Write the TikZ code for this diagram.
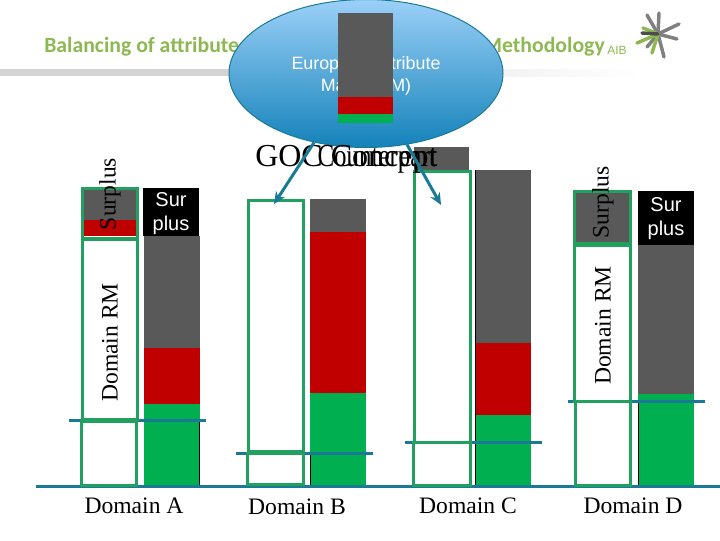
\documentclass[tikz,border=0pt]{standalone}
\usepackage{fontspec}
\setmainfont{Liberation Serif}
\setsansfont{Liberation Sans}
\newfontfamily\titlefont{Carlito}
\usepackage{tikz}
\usetikzlibrary{positioning,arrows.meta,shapes.geometric}
\definecolor{AIBGreen}{RGB}{141,184,82}
\definecolor{RMGreen}{RGB}{33,160,96}
\definecolor{BarGray}{RGB}{89,89,89}
\definecolor{BarRed}{RGB}{192,0,0}
\definecolor{BarGreen}{RGB}{0,176,80}
\definecolor{LineBlue}{RGB}{26,122,150}
\definecolor{EllipseTop}{RGB}{155,208,248}
\definecolor{EllipseBottom}{RGB}{20,130,185}
\tikzset{
    rmbox/.style={draw=RMGreen, line width=2.25pt},
    graybar/.style={fill=BarGray, draw=none},
    redbar/.style={fill=BarRed, draw=none},
    greenbar/.style={fill=BarGreen, draw=none},
    levelline/.style={draw=LineBlue, line width=2.25pt},
    edgeline/.style={draw=black, line width=0.75pt},
    pointer/.style={draw=LineBlue, line width=2.25pt, -{Stealth[length=9pt,width=8pt]}},
    surplustext/.style={text=white, font=\sffamily\fontsize{15}{18}\selectfont, align=center, inner sep=0pt},
    sidelabel/.style={rotate=90, font=\fontsize{17.7}{20}\selectfont, inner sep=0pt},
    domainlabel/.style={anchor=base, font=\fontsize{17.7}{20}\selectfont, inner sep=0pt},
    biglabel/.style={anchor=base west, font=\fontsize{24}{28}\selectfont, inner sep=0pt},
    titlelabel/.style={inner sep=0pt, text=AIBGreen, font=\titlefont\bfseries\fontsize{16.3}{18}\selectfont},
    ray/.style={line width=2.6pt, line cap=round}
}
\begin{document}
\begin{tikzpicture}[x=0.75pt, y=-0.75pt]
    \useasboundingbox (0,0) rectangle (720,540);

    % --- 1. TITLE ---
    \fill[black!17] (0,69) rectangle (229,76);
    \shade[left color=black!5, right color=white, draw=none] (500,69) rectangle (640,76);
    \node[titlelabel, anchor=base west] (titleleft) at (44,52) {Balancing of attributes};
    \node[titlelabel, anchor=base east] (titleright) at (605,52) {Methodology};
    \node[anchor=base west, inner sep=0pt, text=AIBGreen, font=\sffamily\fontsize{9}{10}\selectfont] (aib) at (607,54) {AIB};

    % logo
    \foreach \ex/\ey in {659/13, 647/15, 679/24, 677/39, 664/57, 647/47}
        \draw[ray, black!50] (658,34) -- (\ex,\ey);
    \foreach \ex/\ey in {652/53, 637/43, 643/28}
        \draw[ray, AIBGreen] (658,34) -- (\ex,\ey);
    \draw[ray, black!70] (642,33) -- (658,34);

    % --- 2. DOMAIN BARS ---
    % Domain A
    \fill[black] (143,188) rectangle (199,236);
    \fill[graybar] (144,236) rectangle (200,348);
    \fill[redbar] (144,348) rectangle (200,404);
    \fill[greenbar] (144,404) rectangle (200,486);
    \draw[edgeline] (199.5,422) -- (199.5,486);
    \node[surplustext] (surplusA) at (171,214) {Sur\\plus};

    % Domain B
    \fill[graybar] (310,199) rectangle (366,232);
    \fill[redbar] (310,232) rectangle (366,393);
    \fill[greenbar] (310,393) rectangle (366,486);
    \draw[edgeline] (310,455) -- (310,486);

    % Domain C
    \fill[graybar] (476,170) rectangle (531,343);
    \fill[redbar] (476,343) rectangle (531,415);
    \fill[greenbar] (476,415) rectangle (531,486);
    \draw[edgeline] (475.5,170) -- (475.5,486);

    % Domain D
    \fill[black] (638,191) rectangle (694,245);
    \fill[graybar] (638,245) rectangle (694,394);
    \fill[greenbar] (638,394) rectangle (694,486);
    \draw[edgeline] (638,402) -- (638,486);
    \node[surplustext] (surplusD) at (666,219) {Sur\\plus};

    % --- 3. LEVEL LINES ---
    \draw[levelline] (36,486.5) -- (720,486.5);
    \draw[levelline] (69,420.5) -- (206,420.5);
    \draw[levelline] (236,453.5) -- (373,453.5);
    \draw[levelline] (405,442.5) -- (542,442.5);
    \draw[levelline] (568,401.5) -- (705,401.5);

    % --- 4. RM BOXES ---
    % Domain A
    \fill[graybar] (83,188) rectangle (137,220);
    \fill[redbar] (83,220) rectangle (137,236);
    \draw[rmbox] (82.5,188.5) rectangle (137.5,238);
    \draw[rmbox] (82.5,239.5) rectangle (137.5,419.5);
    \draw[rmbox] (81.5,421) rectangle (136.5,485.5);

    % Domain B
    \draw[rmbox] (248,200) rectangle (303,451);
    \draw[rmbox] (247,453) rectangle (303,484);

    % Domain C
    \fill[graybar] (414,147) rectangle (469,170);
    \draw[rmbox] (414.5,171) rectangle (470,442);
    \draw[rmbox] (413.5,442.5) rectangle (470,485.5);

    % Domain D
    \fill[graybar] (574,191) rectangle (631,243);
    \draw[rmbox] (574,191.5) rectangle (630.5,243.5);
    \draw[rmbox] (574,245) rectangle (630.5,401);
    \draw[rmbox] (575,401) rectangle (630.5,485.5);

    % --- 5. LABELS ---
    \node[sidelabel] (surplusleft) at (110,194) {Surplus};
    \node[sidelabel] (rmleft) at (110,342.5) {Domain RM};
    \node[sidelabel] (surplusright) at (603,202.5) {Surplus};
    \node[sidelabel] (rmright) at (603,325.5) {Domain RM};
    \node[domainlabel] (domainA) at (134,513) {Domain A};
    \node[domainlabel] (domainB) at (297,514) {Domain B};
    \node[domainlabel] (domainC) at (468,513) {Domain C};
    \node[domainlabel] (domainD) at (633,513) {Domain D};

    % --- 6. EUROPEAN RM ---
    \node[ellipse, draw=LineBlue, line width=0.75pt, top color=EllipseTop, bottom color=EllipseBottom, minimum width=205.5pt, minimum height=111pt, inner sep=0pt] (eam) at (366,73.5) {};
    \node[text=white, align=center, inner sep=0pt, font=\sffamily\fontsize{13.4}{16.5}\selectfont] (eamtext) at (366,76) {European Attribute\\Map (EAM)};
    \fill[graybar] (338,13) rectangle (393,97);
    \fill[redbar] (338,97) rectangle (393,114);
    \fill[greenbar] (338,114) rectangle (393,123);

    % overlapping words
    \node[biglabel] (gocconcept) at (255,166) {GOC Concept};
    \node[biglabel, anchor=base east] (counterpart) at (437,166) {\scalebox{0.78}[1]{Counterpart}};

    % --- 7. POINTERS ---
    \coordinate (tipB) at (274,204);
    \coordinate (tipC) at (441,205);
    \draw[pointer] (eam.233.5) -- (tipB);
    \draw[pointer] (eam.300.4) -- (tipC);
\end{tikzpicture}
\end{document}
